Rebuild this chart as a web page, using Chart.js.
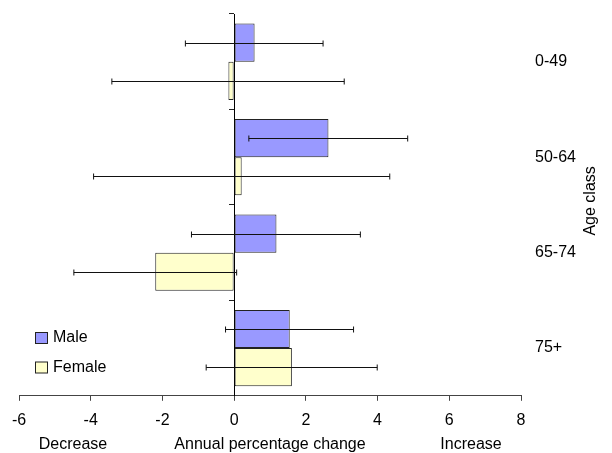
<!DOCTYPE html>
<html lang="en">

<head>
    <meta charset="UTF-8">
    <title>Annual percentage change by age class</title>
    <script src="https://cdn.jsdelivr.net/npm/chart.js"></script>
    <style>
        body {
            margin: 0;
            background: white;
        }

        .grafico {
            width: 612px;
            height: 453px;
        }
    </style>
</head>

<body>

    <div class="grafico">
        <canvas id="graficoIdade"></canvas>
    </div>

</body>

</html>

<script>

    // classes de idade e valores
    const classes = ['0-49', '50-64', '65-74', '75+'];
    const ticksX = [-6, -4, -2, 0, 2, 4, 6, 8];

    const masculino = [0.57, 2.63, 1.18, 1.55];
    const masculinoMin = [-1.36, 0.41, -1.19, -0.24];
    const masculinoMax = [2.48, 4.84, 3.52, 3.33];

    const feminino = [-0.16, 0.21, -2.20, 1.61];
    const femininoMin = [-3.41, -3.92, -4.47, -0.78];
    const femininoMax = [3.07, 4.34, 0.07, 3.99];

    const fonte = "'Liberation Sans', Arial, sans-serif";

    // barras de erro horizontais
    const barrasErro = {
        id: 'barrasErro',
        afterDatasetsDraw(chart) {
            const ctx = chart.ctx;
            const x = chart.scales.x;
            const limites = [[masculinoMin, masculinoMax], [femininoMin, femininoMax]];

            ctx.save();
            ctx.strokeStyle = '#111';
            ctx.lineWidth = 1;

            chart.data.datasets.forEach(function (ds, d) {
                chart.getDatasetMeta(d).data.forEach(function (barra, i) {
                    const x1 = x.getPixelForValue(limites[d][0][i]);
                    const x2 = x.getPixelForValue(limites[d][1][i]);
                    const y = Math.round(barra.y) + 0.5;
                    ctx.beginPath();
                    ctx.moveTo(x1, y);
                    ctx.lineTo(x2, y);
                    ctx.moveTo(x1, y - 3);
                    ctx.lineTo(x1, y + 3);
                    ctx.moveTo(x2, y - 3);
                    ctx.lineTo(x2, y + 3);
                    ctx.stroke();
                });
            });
            ctx.restore();
        }
    };

    // textos extras: classes a direita, titulo vertical, legenda e Decrease/Increase
    const textos = {
        id: 'textos',
        afterDraw(chart) {
            const ctx = chart.ctx;
            const area = chart.chartArea;
            const y = chart.scales.y;

            ctx.save();
            ctx.fillStyle = '#000';
            ctx.font = '16px ' + fonte;
            ctx.textBaseline = 'middle';

            ctx.textAlign = 'left';
            classes.forEach(function (c, i) {
                ctx.fillText(c, area.right + 14, y.getPixelForValue(i));
            });

            // legenda
            chart.data.datasets.forEach(function (ds, i) {
                const ly = 338 + i * 29.5;
                ctx.fillStyle = ds.backgroundColor;
                ctx.fillRect(35.5, ly - 5.5, 12, 11);
                ctx.strokeStyle = '#222';
                ctx.lineWidth = 1;
                ctx.strokeRect(35.5, ly - 5.5, 12, 11);
                ctx.fillStyle = '#000';
                ctx.fillText(ds.label, 53, ly);
            });

            ctx.textAlign = 'center';
            const base = chart.scales.x.bottom - 8;
            ctx.fillText('Decrease', area.left + 54, base);
            ctx.fillText('Increase', area.right - 50, base);

            ctx.translate(591, (area.top + area.bottom) / 2 - 4);
            ctx.rotate(-Math.PI / 2);
            ctx.fillText('Age class', 0, 0);
            ctx.restore();
        }
    };

    Chart.defaults.font.family = fonte;
    Chart.defaults.font.size = 16;
    Chart.defaults.color = '#000';

    let grafico = document.getElementById('graficoIdade');

    var chartIdade = new Chart(grafico, {
        type: 'bar',
        data: {
            labels: classes,
            datasets: [{
                label: 'Male',
                data: masculino,
                backgroundColor: '#9999FF',
                borderColor: '#222',
                borderWidth: 1,
                borderSkipped: false,
                categoryPercentage: 0.8,
                barPercentage: 1.0
            },
            {
                label: 'Female',
                data: feminino,
                backgroundColor: '#FFFFCC',
                borderColor: '#222',
                borderWidth: 1,
                borderSkipped: false,
                categoryPercentage: 0.8,
                barPercentage: 1.0
            }
            ]
        },
        options: {
            indexAxis: 'y',
            responsive: true,
            maintainAspectRatio: false,
            animation: false,
            layout: {
                padding: { left: 19, right: 91, top: 14, bottom: 0 }
            },
            plugins: {
                legend: { display: false },
                tooltip: { enabled: false }
            },
            scales: {
                x: {
                    type: 'linear',
                    min: ticksX[0],
                    max: ticksX[ticksX.length - 1],
                    afterBuildTicks: function (eixo) {
                        eixo.ticks = ticksX.map(function (v) { return { value: v }; });
                    },
                    grid: {
                        drawOnChartArea: false,
                        drawTicks: true,
                        tickLength: 5,
                        color: '#444'
                    },
                    border: { color: '#444' },
                    ticks: { padding: 10, font: { size: 16 } },
                    title: {
                        display: true,
                        text: 'Annual percentage change',
                        padding: { top: -3, bottom: 0 },
                        font: { size: 16, lineHeight: 1 }
                    }
                },
                y: {
                    type: 'category',
                    position: { x: 0 },
                    offset: true,
                    grid: {
                        offset: true,
                        drawOnChartArea: false,
                        drawTicks: true,
                        tickLength: 5,
                        color: '#222'
                    },
                    border: { color: '#000' },
                    ticks: { display: false }
                }
            }
        },
        plugins: [barrasErro, textos]
    });

</script>
